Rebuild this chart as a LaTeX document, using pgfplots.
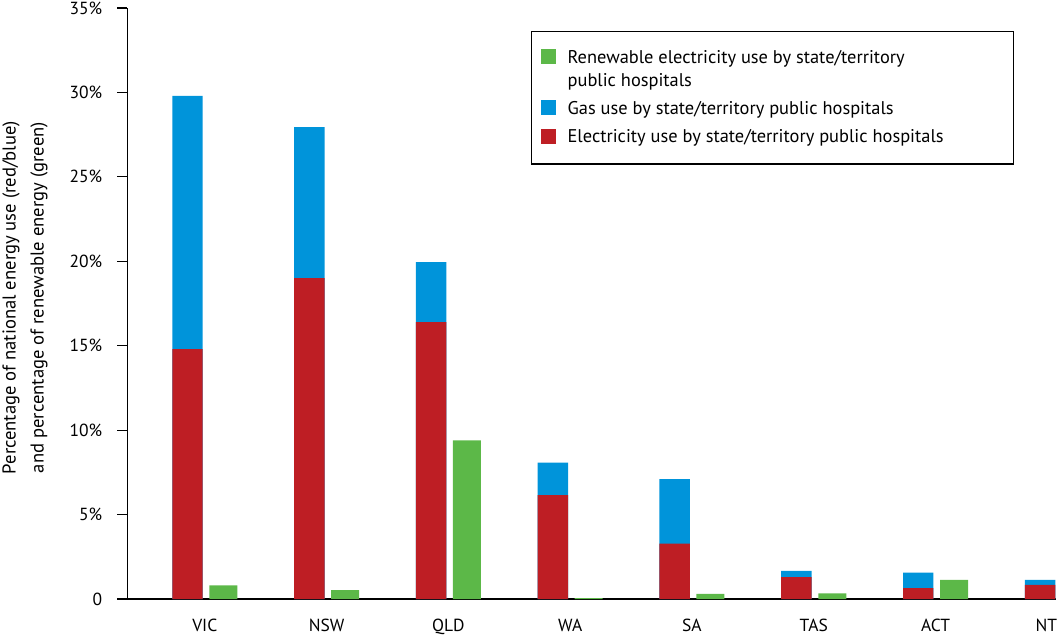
\documentclass[border=0pt]{standalone}
\usepackage{fontspec}
\setmainfont{PT Sans}
\usepackage{pgfplots}
\usepackage{pgfplotstable}
\pgfplotsset{compat=1.18}
\definecolor{cred}{RGB}{190,30,36}
\definecolor{cblue}{RGB}{0,148,218}
\definecolor{cgreen}{RGB}{92,184,72}
\pgfplotstableread{
i elec gas ren
0 14.8 15.0 0.8
1 19.0 8.95 0.53
2 16.4 3.55 9.4
3 6.15 1.92 0.05
4 3.28 3.82 0.3
5 1.3 0.36 0.34
6 0.65 0.91 1.13
7 0.83 0.30 0
}\datatable
\newcommand{\lgd}[1]{\parbox[t]{437pt}{\raggedright #1}}
\begin{document}
\begin{tikzpicture}[x=1pt,y=1pt]
\path[use as bounding box] (0,0) rectangle (1064,640);
\begin{axis}[
  at={(127.5pt,41pt)}, anchor=south west,
  scale only axis, width=928.5pt, height=591pt,
  xmin=-0.6346, xmax=6.989, ymin=0, ymax=35,
  axis x line=bottom, axis y line=left,
  axis line style={-, line width=1.3pt, black},
  ytick={0,5,10,15,20,25,30,35},
  yticklabels={0,5\%,10\%,15\%,20\%,25\%,30\%,35\%},
  xtick={0,1,2,3,4,5,6,6.91},
  xticklabels={VIC,NSW,QLD,WA,SA,TAS,ACT,NT},
  xtick style={draw=none},
  ytick style={line width=1.2pt, black},
  tick align=outside, major tick length=10pt,
  tick label style={font=\fontsize{17.5}{20}\selectfont},
  yticklabel style={xshift=-11.7pt},
  xticklabel style={yshift=-6.5pt},
  every axis y label/.style={at={(axis description cs:-0.1104,0.51)}, rotate=90, anchor=center},
  ylabel={Percentage of national energy use (red/blue)\\and percentage of renewable energy (green)},
  ylabel style={align=center, font=\fontsize{18.6}{28}\selectfont},
  ybar, bar width=0.25,
  legend style={at={(axis description cs:0.4346,0.9611)}, anchor=north west,
    draw=black, line width=1.2pt, inner xsep=9pt, inner ysep=17.5pt,
    font=\fontsize{18.4}{23}\selectfont, row sep=10.6pt,
    nodes={inner sep=0pt, text depth=},
    cells={anchor=base west}},
  sq/.style={legend image code/.code={\fill[##1] (0pt,-1pt) rectangle (15.5pt,14pt); \path (27pt,0pt);}},
]
\addplot[fill=cgreen, draw=none, bar shift=0pt, bar width=0.23, sq] table[x expr=\thisrow{i}+0.152, y=ren] {\datatable};
\addlegendentry{\lgd{Renewable electricity use by state/territory\\public hospitals}}
\addplot[fill=cblue, draw=none, bar shift=0pt, sq] table[x expr=\thisrow{i}-0.142, y expr=\thisrow{elec}+\thisrow{gas}] {\datatable};
\addlegendentry{\lgd{Gas use by state/territory public hospitals}}
\addplot[fill=cred, draw=none, bar shift=0pt, sq] table[x expr=\thisrow{i}-0.142, y=elec] {\datatable};
\addlegendentry{\lgd{Electricity use by state/territory public hospitals}}
\end{axis}
\end{tikzpicture}
\end{document}
